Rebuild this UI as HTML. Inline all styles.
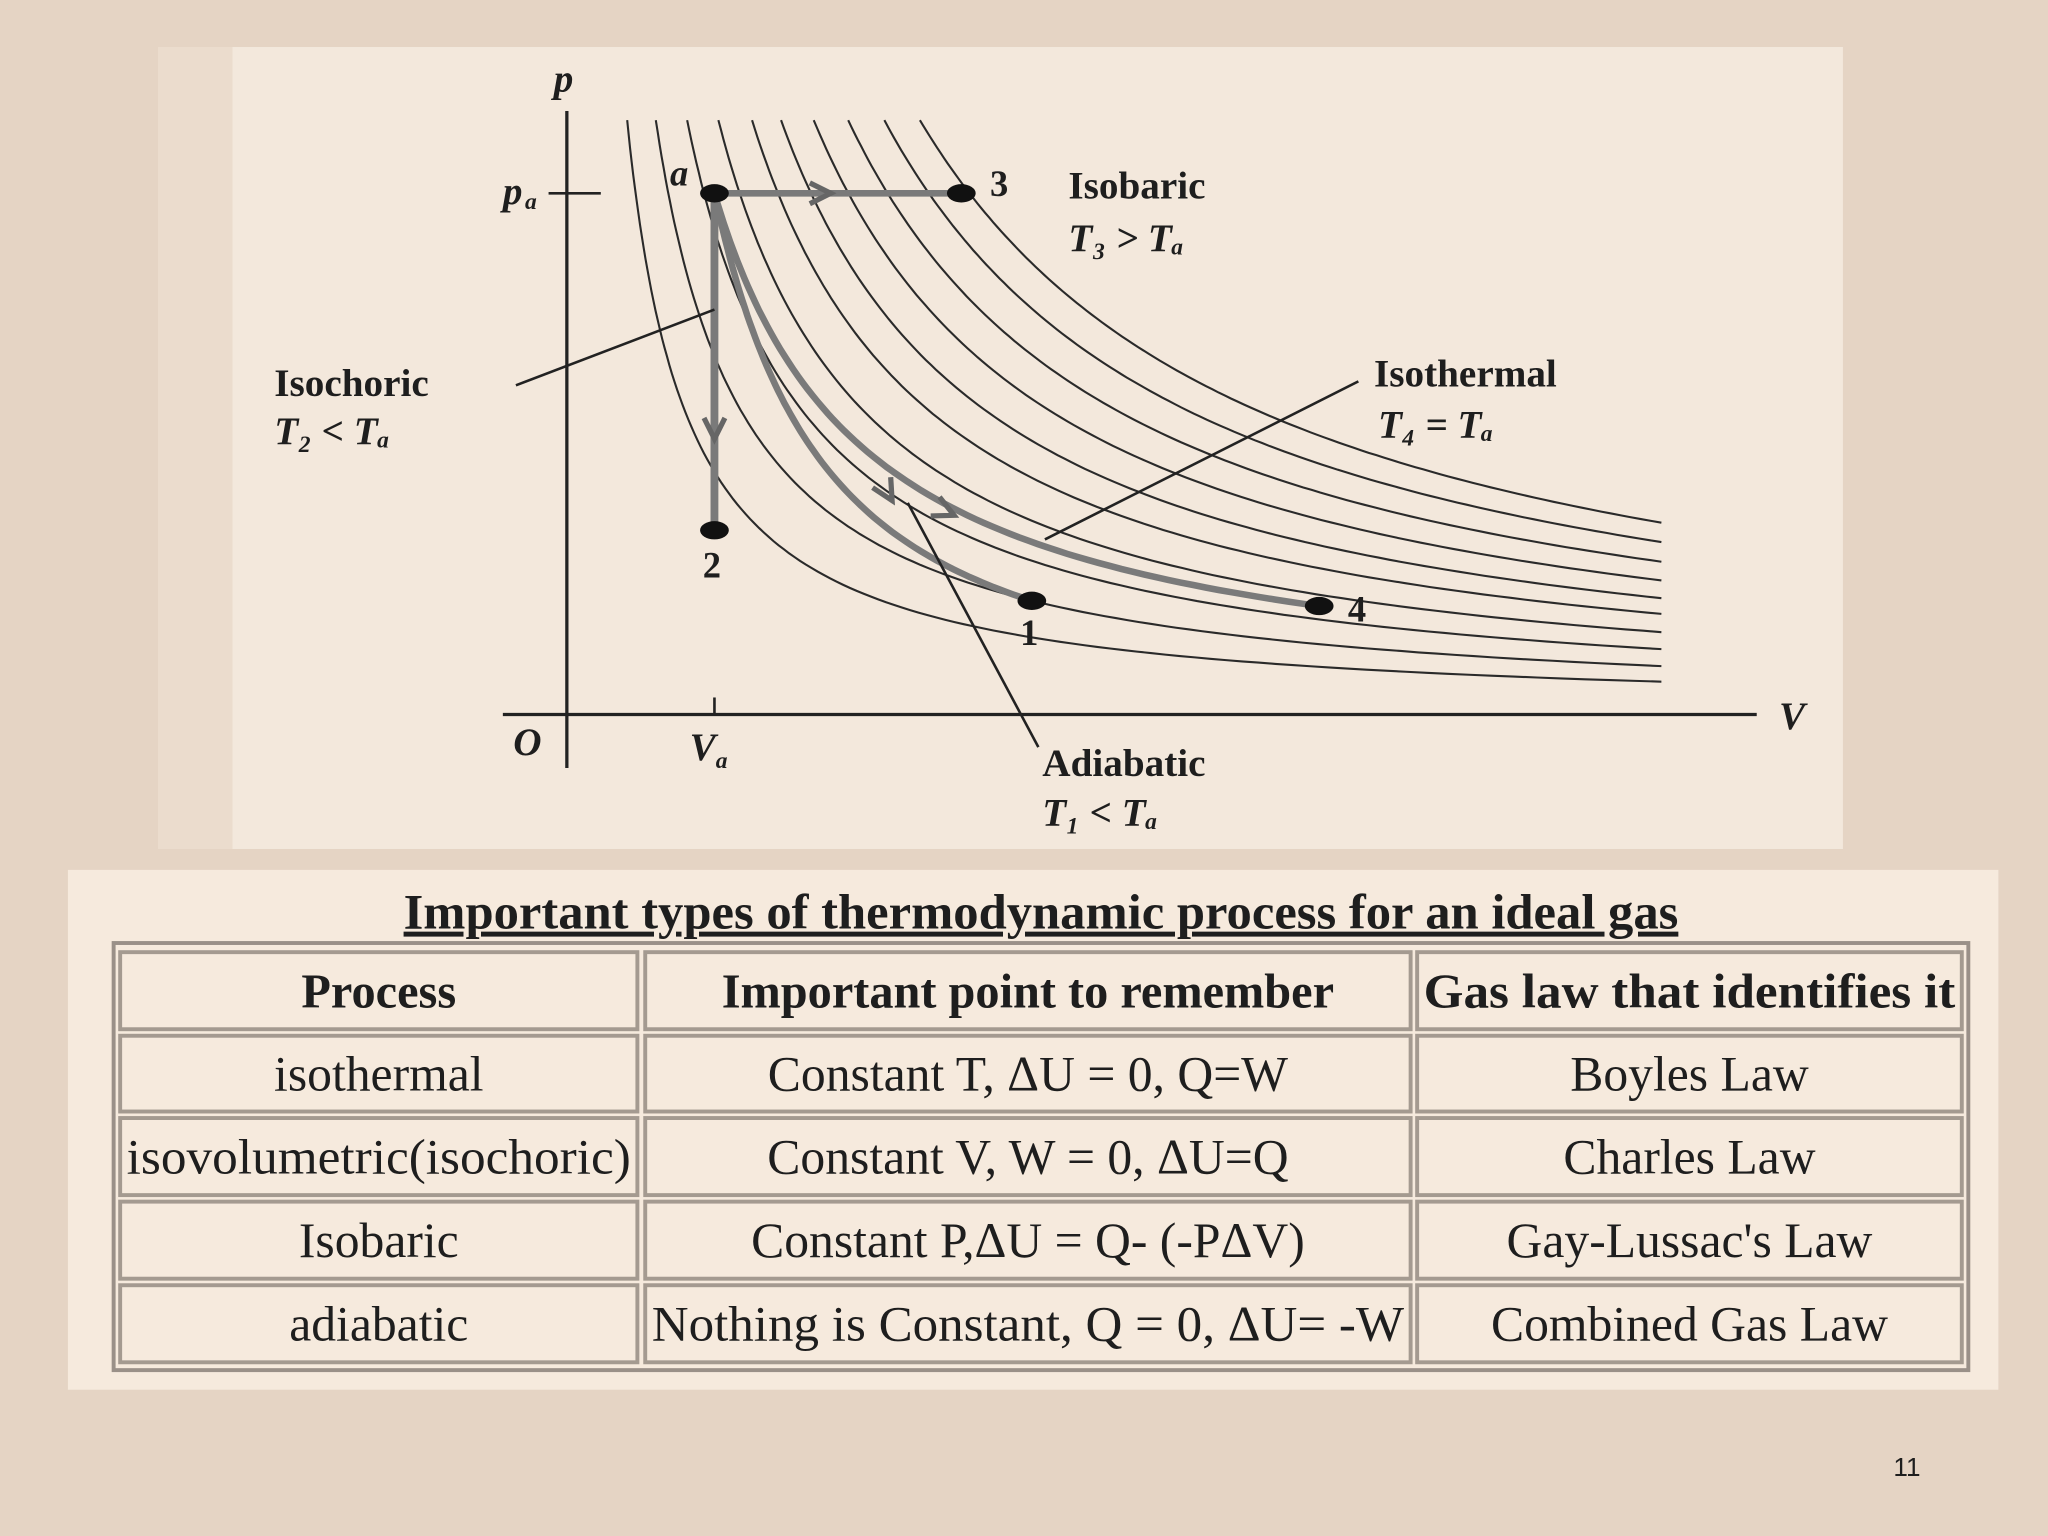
<!DOCTYPE html>
<html><head><meta charset="utf-8"><style>
html,body{margin:0;padding:0;background:#e5d4c4;}
svg{display:block;}
text{font-family:"Liberation Serif",serif;fill:#1e1e1e;}
</style></head><body>
<svg id="s" width="2048" height="1536" viewBox="0 0 1568 1176">
<rect x="0" y="0" width="1568" height="1176" fill="#e5d4c4"/>
<rect x="121" y="36" width="1290" height="614" fill="#f3e8dc"/>
<rect x="121" y="36" width="57" height="614" fill="#ebdccd"/>
<g id="chart"></g>
<rect x="52" y="666" width="1478" height="398" fill="#f6eadd"/>
<text x="797" y="711" text-anchor="middle" font-size="38" font-weight="bold" text-decoration="underline" textLength="976" lengthAdjust="spacingAndGlyphs">Important types of thermodynamic process for an ideal gas</text>
<rect x="87" y="722" width="1420" height="327" fill="none" stroke="#9a9088" stroke-width="3"/>
<g id="table"></g>
<text x="1460" y="1130" text-anchor="middle" font-size="20" style="font-family:'Liberation Sans',sans-serif">11</text>
</svg>
<script>
const NS="http://www.w3.org/2000/svg";
function mk(parent,tag,attrs,txt){const e=document.createElementNS(NS,tag);for(const k in attrs)e.setAttribute(k,attrs[k]);if(txt!==undefined)e.textContent=txt;parent.appendChild(e);return e;}
// ---- chart data ----
const isothermK=[123000,110600,98000,86000,74600,64500,52800,41900,31000,21000];
const pointNames=["a","3","2","1","4"];
const pointV=[113,302,113,356,576];
const pointP=[399,399,141,87,83];
const ox=434, oy=547;
const sx=v=>ox+v, sy=p=>oy-p;
const g=document.getElementById('chart');
let e;
e=mk(g,'line',{x1:ox,y1:85,x2:ox,y2:588,stroke:'#222','stroke-width':2.5});

e=mk(g,'line',{x1:385,y1:oy,x2:1345,y2:oy,stroke:'#222','stroke-width':2.5});

mk(g,'line',{x1:420,y1:148,x2:460,y2:148,stroke:'#222','stroke-width':2});
mk(g,'line',{x1:547,y1:534,x2:547,y2:547,stroke:'#222','stroke-width':2});
isothermK.forEach((k,i)=>{
  let d="";const vmin=k/455, vmax=838;
  for(let j=0;j<=120;j++){const v=vmin*Math.pow(vmax/vmin,j/120);d+=(j?"L":"M")+sx(v).toFixed(1)+","+sy(k/v).toFixed(1);}
  const p=mk(g,'path',{d:d,fill:'none',stroke:'#2a2a2a','stroke-width':1.6});
  
});
const A=0,P3=1,P2=2,P1=3,P4=4;
e=mk(g,'line',{x1:sx(pointV[A]),y1:sy(pointP[A]),x2:sx(pointV[P3]),y2:sy(pointP[P3]),stroke:'#7a7a7a','stroke-width':5});

e=mk(g,'line',{x1:sx(pointV[A]),y1:sy(pointP[A]),x2:sx(pointV[P2]),y2:sy(pointP[P2]),stroke:'#7a7a7a','stroke-width':6});

{const k1=pointV[A]*pointP[A],k2=pointV[P4]*pointP[P4];let d="";
 for(let j=0;j<=80;j++){const t=j/80;const v=pointV[A]*Math.pow(pointV[P4]/pointV[A],t);const k=k1+(k2-k1)*t;d+=(j?"L":"M")+sx(v).toFixed(1)+","+sy(k/v).toFixed(1);}
 e=mk(g,'path',{d:d,fill:'none',stroke:'#7a7a7a','stroke-width':5});}
{const gm=Math.log(pointP[A]/pointP[P1])/Math.log(pointV[P1]/pointV[A]);let d="";
 for(let j=0;j<=80;j++){const v=pointV[A]*Math.pow(pointV[P1]/pointV[A],j/80);const p=pointP[A]*Math.pow(pointV[A]/v,gm);d+=(j?"L":"M")+sx(v).toFixed(1)+","+sy(p).toFixed(1);}
 e=mk(g,'path',{d:d,fill:'none',stroke:'#7a7a7a','stroke-width':5});}
[[630,148,0],[547,330,90],[680,378,60],[725,392,25]].forEach(a=>{mk(g,'path',{d:'M-10,-8 L6,0 L-10,8',fill:'none',stroke:'#666','stroke-width':4,transform:`translate(${a[0]},${a[1]}) rotate(${a[2]})`});});
[[395,295,547,237],[1040,292,800,413],[795,572,695,385]].forEach((l,i)=>{e=mk(g,'line',{x1:l[0],y1:l[1],x2:l[2],y2:l[3],stroke:'#222','stroke-width':2});});
const labelOff=[[-34,-6],[22,2],[-9,36],[-9,34],[22,12]];
pointNames.forEach((n,i)=>{
  e=mk(g,'ellipse',{cx:sx(pointV[i]),cy:sy(pointP[i]),rx:11,ry:7,fill:'#111'});
  
  e=mk(g,'text',{x:sx(pointV[i])+labelOff[i][0],y:sy(pointP[i])+labelOff[i][1],'font-size':28,'font-style':n==='a'?'italic':'normal','font-weight':'bold',fill:n==='4'?'#777':'#222'},n);
  
});
const labels=[["p",424,70,"italic"],["p",385,156,"italic"],["O",393,578,"italic"],["V",528,582,"italic"],["V",1362,558,"italic"],
["Isobaric",818,152,"normal"],["T₃ > Tₐ",818,192,"italic"],["Isochoric",210,303,"normal"],["T₂ < Tₐ",210,340,"italic"],
["Isothermal",1052,296,"normal"],["T₄ = Tₐ",1055,335,"italic"],["Adiabatic",798,594,"normal"],["T₁ < Tₐ",798,632,"italic"]];
labels.forEach((l,i)=>{e=mk(g,'text',{x:l[1],y:l[2],'font-size':30,'font-style':l[3],'font-weight':'bold'},l[0]);});
mk(g,'text',{x:402,y:160,'font-size':18,'font-style':'italic','font-weight':'bold'},'a');
mk(g,'text',{x:548,y:588,'font-size':18,'font-style':'italic','font-weight':'bold'},'a');
// ---- table ----
const t=document.getElementById('table');
const cols=[[92,488],[494,1080],[1085,1502]];
const rows=[[729,788],[793,851],[856,915],[920,979],[984,1043]];
const cells=[["Process","Important point to remember","Gas law that identifies it"],
["isothermal","Constant T, ΔU = 0, Q=W","Boyles Law"],
["isovolumetric(isochoric)","Constant V, W = 0, ΔU=Q","Charles Law"],
["Isobaric","Constant P,ΔU = Q- (-PΔV)","Gay-Lussac's Law"],
["adiabatic","Nothing is Constant, Q = 0, ΔU= -W","Combined Gas Law"]];
rows.forEach((r,ri)=>cols.forEach((c,ci)=>{
  e=mk(t,'rect',{x:c[0],y:r[0],width:c[1]-c[0],height:r[1]-r[0],fill:'none',stroke:'#a49a90','stroke-width':3});
  
  const fit=(ri===2&&ci===0)||(ri===4&&ci===1)||(ri===0&&ci===2);
  const at={x:(c[0]+c[1])/2,y:(r[0]+r[1])/2+13,'text-anchor':'middle','font-size':ri===0?37:38,'font-weight':ri===0?'bold':'normal'};
  if(fit){at.textLength=c[1]-c[0]-10;at.lengthAdjust='spacingAndGlyphs';}
  e=mk(t,'text',at,cells[ri][ci]);
  
}));
</script>
</body></html>
